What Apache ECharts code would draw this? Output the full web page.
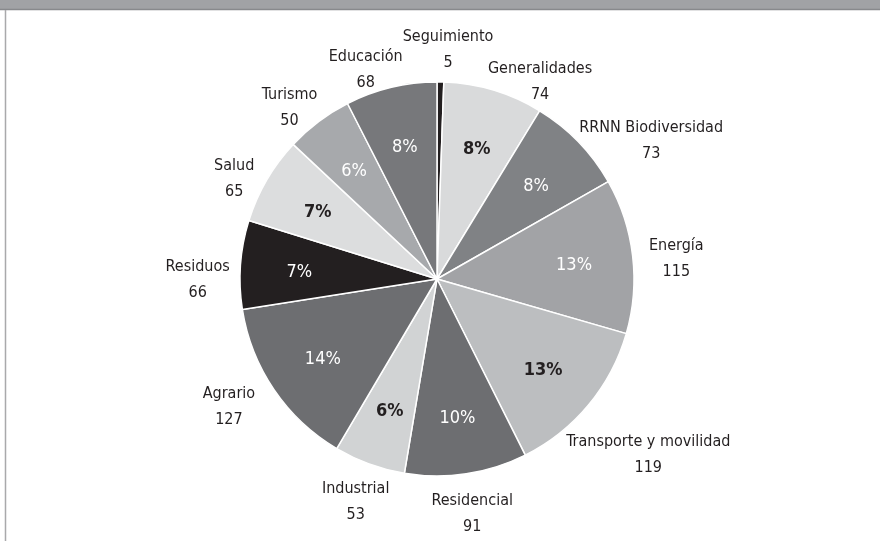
<!DOCTYPE html>
<html>
<head>
<meta charset="utf-8">
<script src="https://cdn.jsdelivr.net/npm/echarts@6/dist/echarts.min.js"></script>
<style>
html,body{margin:0;padding:0;background:#fff;}
#chart{width:880px;height:541px;}
</style>
</head>
<body>
<div id="chart"></div>
<script>
// ---- data ----
const categories = ['Seguimiento','Generalidades','RRNN Biodiversidad','Energía','Transporte y movilidad','Residencial','Industrial','Agrario','Residuos','Salud','Turismo','Educación'];
const values = [5, 74, 73, 115, 119, 91, 53, 127, 66, 65, 50, 68];
const sliceColors = ['#231f20','#d9dadb','#808285','#a2a3a6','#bcbec0','#6d6e71','#d1d3d4','#6d6e71','#231f20','#dcddde','#a7a9ac','#77787b'];

const FONT = "'Liberation Sans Narrow','DejaVu Sans Condensed','Arial Narrow',sans-serif";
const total = values.reduce((a,b)=>a+b,0);
const CENTER = [437, 279];
const R = 197;

function isLight(hex){
  const r=parseInt(hex.substr(1,2),16), g=parseInt(hex.substr(3,2),16), b=parseInt(hex.substr(5,2),16);
  return (0.299*r+0.587*g+0.114*b) > 176;
}

// label nudges for outer labels (layout only)
const outerLabelOffset = {
  'Generalidades': [35, 30],
  'RRNN Biodiversidad': [44, 27],
  'Energía': [4, 8],
  'Transporte y movilidad': [29, 24],
  'Agrario': [-12, -5],
  'Residuos': [-3, 18],
  'Salud': [2, 19],
  'Turismo': [-5, 18],
  'Educación': [-16, 21]
};

const mainData = categories.map((n,i)=>({name:n, value:values[i], itemStyle:{color:sliceColors[i]}}));
const pctData = categories.map((n,i)=>{
  const frac = values[i]/total;
  return {
    name:n, value:values[i],
    label:{
      show: frac >= 0.01,
      color: isLight(sliceColors[i]) ? '#231f20' : '#ffffff',
      fontWeight: isLight(sliceColors[i]) ? 'bold' : 'normal'
    }
  };
});
// slices too thin to hold an inside label get their label from an outside-positioned series
const tooThin = values.map(v => v/total < 0.01);
const outerData = categories.map((n,i)=>{
  const d = {name:n, value:values[i], label:{show: !tooThin[i]}};
  if (outerLabelOffset[n]) d.label.offset = outerLabelOffset[n];
  return d;
});
const thinData = categories.map((n,i)=>({name:n, value:values[i], label:{show: tooThin[i]}}));

const outerLabelStyle = {fontFamily:FONT, fontSize:16, color:'#231f20', lineHeight:26, align:'center', formatter:'{b}\n{c}'};

const chart = echarts.init(document.getElementById('chart'), null, {renderer:'canvas'});
chart.setOption({
  backgroundColor:'#ffffff',
  animation:false,
  graphic:[
    {type:'rect', shape:{x:0,y:0,width:880,height:9}, style:{fill:'#a1a2a5'}},
    {type:'line', shape:{x1:0,y1:9.5,x2:880,y2:9.5}, style:{stroke:'#88898c',lineWidth:1.5}},
    {type:'line', shape:{x1:5.5,y1:10,x2:5.5,y2:541}, style:{stroke:'#a9a9ab',lineWidth:1.5}}
  ],
  series:[
    {
      type:'pie', center:CENTER, radius:[0,R], startAngle:90, clockwise:true,
      avoidLabelOverlap:false, silent:true,
      itemStyle:{borderColor:'#ffffff', borderWidth:1.5},
      label:{show:false}, labelLine:{show:false},
      data: mainData
    },
    {
      type:'pie', center:CENTER, radius:[74,196], startAngle:90, clockwise:true,
      avoidLabelOverlap:false, silent:true,
      itemStyle:{color:'transparent', borderWidth:0},
      label:{
        position:'inside', fontFamily:FONT, fontSize:18, offset:[0,3],
        formatter: p => Math.round(p.value/total*100) + '%'
      },
      labelLine:{show:false},
      labelLayout:{hideOverlap:false},
      data: pctData
    },
    {
      type:'pie', center:CENTER, radius:[214,254], startAngle:90, clockwise:true,
      avoidLabelOverlap:false, silent:true,
      itemStyle:{color:'transparent', borderWidth:0},
      label: Object.assign({position:'inside'}, outerLabelStyle),
      labelLine:{show:false},
      labelLayout:{hideOverlap:false},
      data: outerData
    },
    {
      type:'pie', center:CENTER, radius:[0,150], startAngle:90, clockwise:true,
      avoidLabelOverlap:false, silent:true,
      itemStyle:{color:'transparent', borderWidth:0},
      label: Object.assign({position:'outside', distanceToLabelLine:0}, outerLabelStyle),
      labelLine:{show:false, length:81, length2:0},
      labelLayout: function(){ return {hideOverlap:false, align:'center', dx:7, dy:2}; },
      data: thinData
    }
  ]
});
</script>
</body>
</html>
